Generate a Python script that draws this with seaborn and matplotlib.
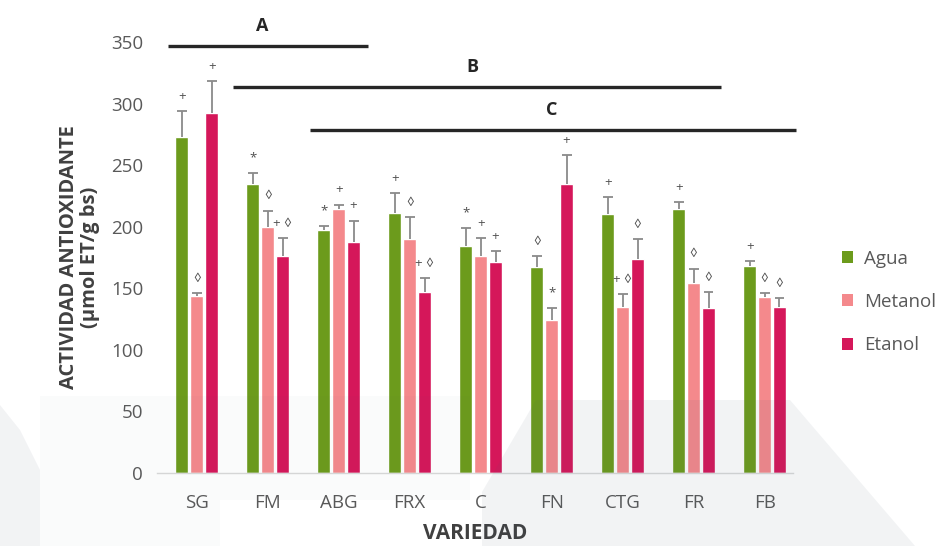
import numpy as np
import pandas as pd
import matplotlib
matplotlib.use("Agg")
import matplotlib.pyplot as plt
from matplotlib.patches import Polygon, Patch
import seaborn as sns

# --- data -------------------------------------------------------------
variedades = ["SG", "FM", "ABG", "FRX", "C", "FN", "CTG", "FR", "FB"]
solventes = ["Agua", "Metanol", "Etanol"]

agua = [273, 235, 197, 211, 184, 167, 210, 214, 168]
metanol = [144, 200, 214, 190, 176, 124, 135, 154, 143]
etanol = [292, 176, 188, 147, 171, 235, 174, 134, 135]

agua_err = [21, 9, 4, 16, 15, 9, 14, 6, 4]
metanol_err = [2, 13, 4, 18, 15, 10, 10, 12, 3]
etanol_err = [26, 15, 17, 11, 9, 23, 16, 13, 7]

agua_sig = ["+", "*", "*", "+", "*", "◊", "+", "+", "+"]
metanol_sig = ["◊", "◊", "+", "◊", "+", "*", "+ ◊", "◊", "◊"]
etanol_sig = ["+", "+ ◊", "+", "+ ◊", "+", "+", "◊", "◊", "◊"]

# group brackets: label, first and last category spanned, height
grupos = ["A", "B", "C"]
grupo_desde = [-0.41, 0.51, 1.59]
grupo_hasta = [2.41, 7.38, 8.44]
grupo_altura = [347, 313.5, 278.5]
grupo_texto_x = [0.92, 3.88, 5.0]

colores = {"Agua": "#6c9b1c", "Metanol": "#f4898c", "Etanol": "#d5175a"}

df = pd.DataFrame({
    "Variedad": variedades * 3,
    "Solvente": np.repeat(solventes, len(variedades)),
    "Valor": agua + metanol + etanol,
})

errores = {"Agua": agua_err, "Metanol": metanol_err, "Etanol": etanol_err}
signos = {"Agua": agua_sig, "Metanol": metanol_sig, "Etanol": etanol_sig}

# --- figure -----------------------------------------------------------
sns.set_theme(style="white")
plt.rcParams["font.family"] = ["Open Sans", "DejaVu Sans"]

fig = plt.figure(figsize=(9.4, 5.46), dpi=100)
ax = fig.add_axes([0.167, 0.1337, 0.6766, 0.7893])

sns.barplot(data=df, x="Variedad", y="Valor", hue="Solvente",
            order=variedades, hue_order=solventes, palette=colores,
            saturation=1, width=0.63, gap=0.15, errorbar=None,
            legend=False, ax=ax, zorder=2)

# upper error bars with caps, plus significance marks above them
gris_err = "#8a8a8a"
cap = 0.07
for cont, solv in zip(ax.containers, solventes):
    xs = np.array([p.get_x() + p.get_width() / 2 for p in cont])
    hs = np.array([p.get_height() for p in cont])
    err = np.array(errores[solv])
    ax.vlines(xs, hs, hs + err, colors=gris_err, lw=1.3, zorder=3)
    ax.hlines(hs + err, xs - cap, xs + cap, colors=gris_err, lw=1.3,
              zorder=3)
    for x, h, e, s in zip(xs, hs, err, signos[solv]):
        ax.text(x, h + e + 12, s, ha="center", va="center", fontsize=9.5,
                color="#505050", zorder=4)

for g, x0, x1, y, tx in zip(grupos, grupo_desde, grupo_hasta, grupo_altura,
                            grupo_texto_x):
    ax.plot([x0, x1], [y, y], color="#262626", lw=2.4, solid_capstyle="butt",
            clip_on=False, zorder=5)
    ax.text(tx, y + 16, g, ha="center", va="center",
            fontsize=13, fontweight="bold", color="#262626", clip_on=False)

ax.set_ylim(0, 350)
ax.set_xlim(-0.56, 8.4)
ax.set_yticks(range(0, 351, 50))
ax.tick_params(axis="both", length=0, labelsize=13.5, labelcolor="#595959")
ax.tick_params(axis="x", pad=15)
ax.tick_params(axis="y", pad=10)
for side in ["top", "right", "left"]:
    ax.spines[side].set_visible(False)
ax.spines["bottom"].set_color("#d9d9d9")
ax.spines["bottom"].set_linewidth(1)

ax.set_xlabel("VARIEDAD", fontsize=15, fontweight="bold", color="#404040",
              labelpad=8)
ax.set_ylabel("ACTIVIDAD ANTIOXIDANTE\n(µmol ET/g bs)", fontsize=14.5,
              fontweight="bold", color="#404040", labelpad=8,
              linespacing=1.05)

handles = [Patch(facecolor=colores[s], edgecolor="none") for s in solventes]
fig.legend(handles, solventes, loc="center left",
           bbox_to_anchor=(0.878, 0.447), frameon=False, fontsize=13.5,
           labelcolor="#595959", handlelength=0.6, handleheight=0.6,
           handletextpad=0.55, labelspacing=1.35)

# faint background shapes printed over the page
H = 546.0
W = 940.0
def fig_poly(pts, alpha):
    pts = [(x / W, 1 - y / H) for x, y in pts]
    fig.patches.append(Polygon(pts, closed=True, transform=fig.transFigure,
                               facecolor="#4a5a70", edgecolor="none",
                               alpha=alpha, zorder=10))

fig_poly([(482, 492), (536, 400), (790, 400), (915, 546), (482, 546)], 0.07)
fig_poly([(40, 396), (470, 396), (470, 500), (220, 500), (220, 546),
          (40, 546)], 0.025)
fig_poly([(0, 405), (20, 430), (40, 470), (40, 546), (0, 546)], 0.07)

fig.savefig("out.png", dpi=100, facecolor="white")
